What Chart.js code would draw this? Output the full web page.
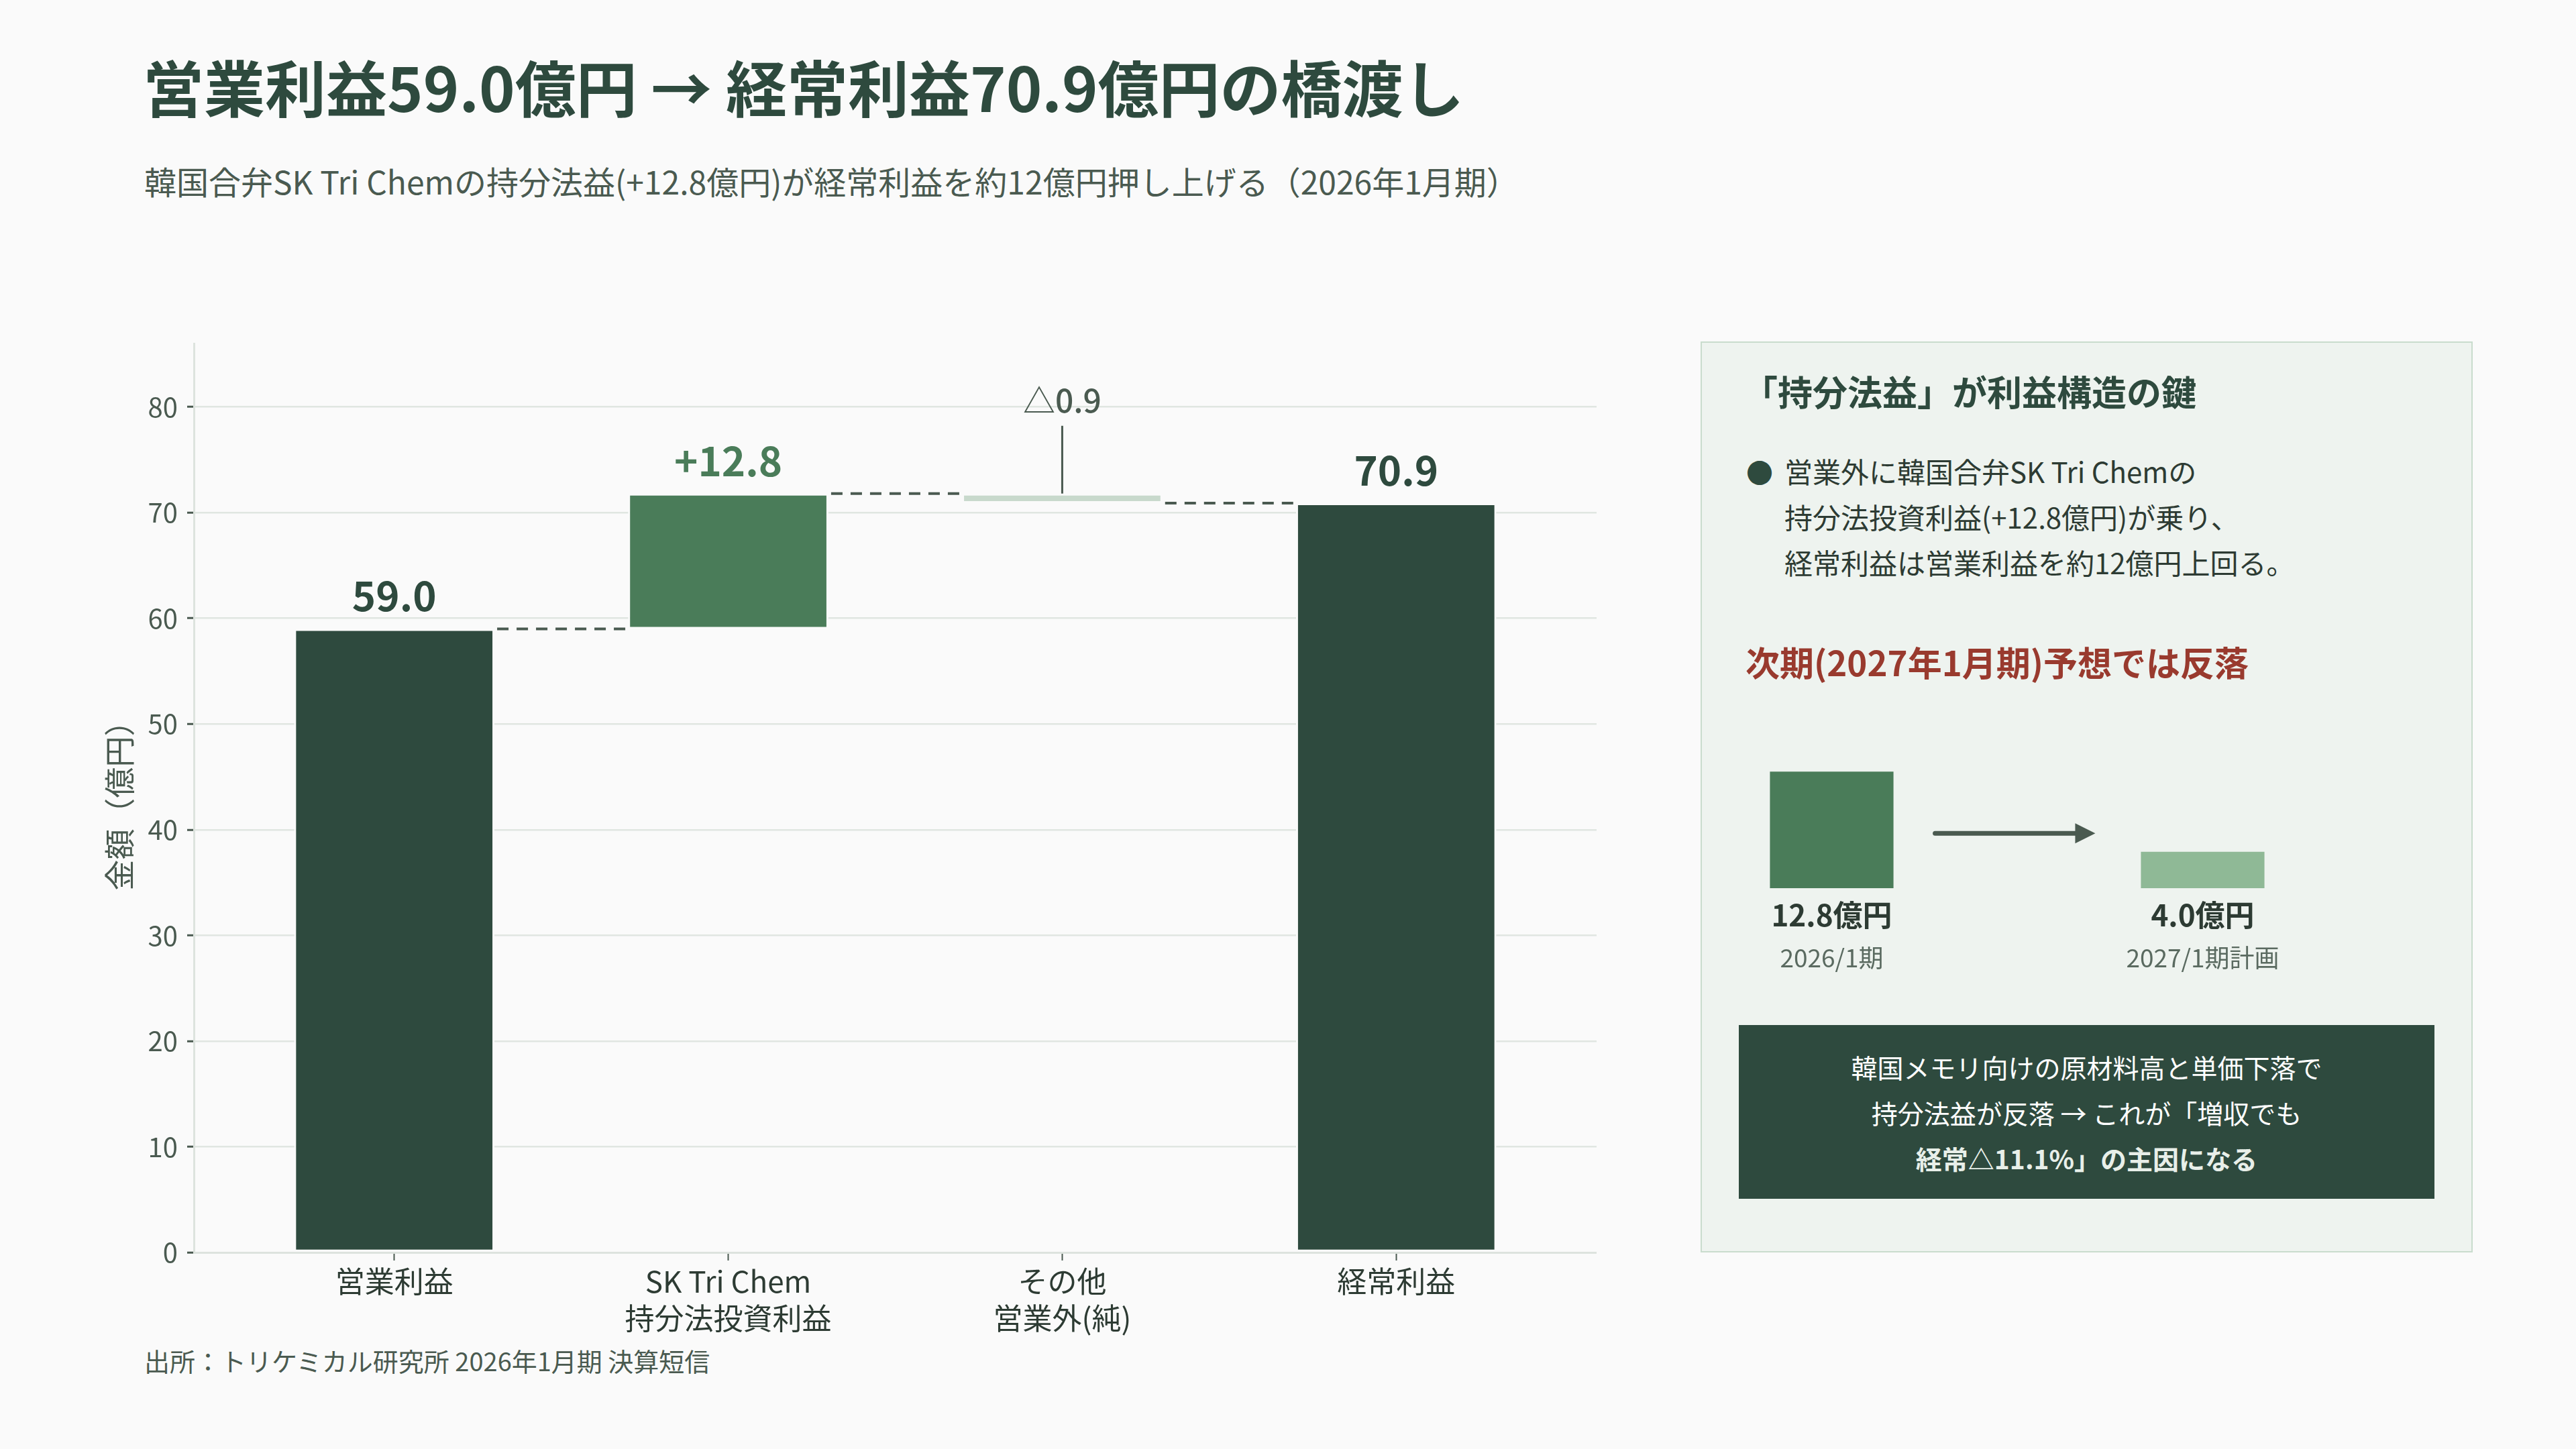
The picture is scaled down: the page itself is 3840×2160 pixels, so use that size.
<!DOCTYPE html>
<html lang="ja">
<head>
<meta charset="utf-8">
<script src="https://cdn.jsdelivr.net/npm/chart.js@4.4.1/dist/chart.umd.min.js"></script>
<style>
  body { margin: 0; width: 3840px; height: 2160px; background: #fafafa; position: relative; overflow: hidden;
         font-family: "Noto Sans CJK JP", sans-serif; color: #2d3b33; }
  .abs { position: absolute; white-space: nowrap; }
  #title { left: 213px; top: 82px; font-size: 91px; line-height: 1; font-weight: bold; color: #2e4a3e; }
  #subtitle { left: 215px; top: 245px; font-size: 48px; line-height: 1; color: #4a5a50; }
  #mainWrap { left: 130px; top: 474px; width: 2250px; height: 1523px; }
  #panel { left: 2535px; top: 509px; width: 1151px; height: 1358px; background: #eef3ef;
           border: 2px solid #c9dccd; box-sizing: border-box; }
  #panelHead { left: 2598px; top: 557px; font-size: 52px; line-height: 1; font-weight: bold; color: #2e4a3e; }
  #bullet { left: 2603px; top: 669px; font-size: 40px; line-height: 68px; color: #2e4a3e; }
  #bulletText { left: 2660px; top: 668px; font-size: 42px; line-height: 68px; color: #2d3b33; }
  #redHead { left: 2602px; top: 961px; font-size: 51px; line-height: 1; font-weight: bold; color: #993a2e; }
  #miniWrap { left: 2454px; top: 1134px; width: 1106px; height: 330px; }
  #note { left: 2592px; top: 1528px; width: 1037px; height: 259px; background: #2e4a3e; color: #ffffff;
          display: flex; flex-direction: column; align-items: center; justify-content: center;
          font-size: 39px; line-height: 68px; text-align: center; }
  #note b { color: #e8efe9; }
  #source { left: 215px; top: 2009px; font-size: 38px; line-height: 1; color: #4a5a50; }
</style>
</head>
<body>
<div id="title" class="abs">営業利益59.0億円 → 経常利益70.9億円の橋渡し</div>
<div id="subtitle" class="abs">韓国合弁SK Tri Chemの持分法益(+12.8億円)が経常利益を約12億円押し上げる（2026年1月期）</div>

<div id="mainWrap" class="abs"><canvas id="mainChart" width="2250" height="1523"></canvas></div>

<div id="panel" class="abs"></div>
<div id="panelHead" class="abs">「持分法益」が利益構造の鍵</div>
<div id="bullet" class="abs">●</div>
<div id="bulletText" class="abs">営業外に韓国合弁SK Tri Chemの<br>持分法投資利益(+12.8億円)が乗り、<br>経常利益は営業利益を約12億円上回る。</div>
<div id="redHead" class="abs">次期(2027年1月期)予想では反落</div>
<div id="miniWrap" class="abs"><canvas id="miniChart" width="1106" height="330"></canvas></div>
<div id="note" class="abs">
  <div>韓国メモリ向けの原材料高と単価下落で</div>
  <div>持分法益が反落 → これが「増収でも</div>
  <div><b>経常△11.1%」の主因になる</b></div>
</div>
<div id="source" class="abs">出所：トリケミカル研究所 2026年1月期 決算短信</div>

<script>
// ---- data ----
const categories = [['営業利益'], ['SK Tri Chem', '持分法投資利益'], ['その他', '営業外(純)'], ['経常利益']];
const steps = [59.0, 12.8, -0.9, 70.9];
const isTotal = [true, false, false, true];
const valueLabels = ['59.0', '+12.8', '△0.9', '70.9'];
const yMax = 86;
const yStep = 10;

const miniLabels = ['2026/1期', '2027/1期計画'];
const miniValues = [12.8, 4.0];
const miniValueLabels = ['12.8億円', '4.0億円'];

// colours
const barColors = ['#2e4a3e', '#4a7c59', '#c8d9cc', '#2e4a3e'];
const labelColors = ['#2e4a3e', '#4a7c59', '#4a5a50', '#2e4a3e'];
const FONT = '"Noto Sans CJK JP", sans-serif';

Chart.defaults.font.family = FONT;

// build floating bars + running levels for the connectors
const ranges = [];
const levels = [];
let running = 0;
steps.forEach((v, i) => {
  if (isTotal[i]) {
    ranges.push([0, v]);
    running = v;
  } else {
    ranges.push([running, running + v]);
    running = running + v;
  }
  levels.push(running);
});

const waterfallDecor = {
  id: 'waterfallDecor',
  afterDatasetsDraw(chart) {
    const ctx = chart.ctx;
    const meta = chart.getDatasetMeta(0);
    const y = chart.scales.y;
    ctx.save();
    // dashed connectors between bars
    ctx.strokeStyle = '#4a5a50';
    ctx.lineWidth = 4;
    ctx.setLineDash([17, 12]);
    for (let i = 0; i < meta.data.length - 1; i++) {
      const a = meta.data[i], b = meta.data[i + 1];
      const py = y.getPixelForValue(levels[i]);
      ctx.beginPath();
      ctx.moveTo(a.x + a.width / 2 + 4, py);
      ctx.lineTo(b.x - b.width / 2 - 4, py);
      ctx.stroke();
    }
    ctx.setLineDash([]);
    // value labels
    ctx.textAlign = 'center';
    ctx.textBaseline = 'alphabetic';
    meta.data.forEach((bar, i) => {
      const top = Math.min(bar.y, bar.base);
      ctx.fillStyle = labelColors[i];
      if (!isTotal[i] && steps[i] < 0) {
        // leader line for the small negative step
        ctx.strokeStyle = '#4a5a50';
        ctx.lineWidth = 3;
        ctx.beginPath();
        ctx.moveTo(bar.x, top);
        ctx.lineTo(bar.x, top - 101);
        ctx.stroke();
        ctx.font = '500 48px ' + FONT;
        ctx.fillText(valueLabels[i], bar.x, top - 121);
      } else {
        ctx.font = 'bold 60px ' + FONT;
        ctx.fillText(valueLabels[i], bar.x, top - 26);
      }
    });
    ctx.restore();
  }
};

new Chart(document.getElementById('mainChart'), {
  type: 'bar',
  data: {
    datasets: [{
      data: ranges.map((r, i) => ({ x: i, y: r })),
      backgroundColor: barColors,
      borderColor: '#fafafa',
      borderWidth: 3,
      borderSkipped: false,
      barPercentage: 0.6,
      categoryPercentage: 1.0
    }]
  },
  options: {
    responsive: false,
    devicePixelRatio: 1,
    animation: false,
    layout: { padding: { top: 29, right: 0, left: 0, bottom: 0 } },
    plugins: { legend: { display: false }, tooltip: { enabled: false } },
    scales: {
      x: {
        type: 'linear',
        min: -0.6,
        max: 3.6,
        offset: false,
        afterBuildTicks: (s) => { s.ticks = categories.map((c, i) => ({ value: i })); },
        afterFit: (s) => { s.height = 130; },
        ticks: {
          autoSkip: false,
          maxRotation: 0,
          padding: 4,
          color: '#2d3b33',
          font: { size: 44, lineHeight: 1.25 },
          callback: (v) => categories[v]
        },
        grid: { offset: false, drawOnChartArea: false, drawTicks: true, tickLength: 12, tickColor: '#4a5a50', tickWidth: 2 },
        border: { color: '#dde3de', width: 3 }
      },
      y: {
        min: 0,
        max: yMax,
        afterFit: (s) => { s.width = 159; },
        ticks: { stepSize: yStep, includeBounds: false, padding: 14, color: '#4a5a50', font: { size: 40 } },
        grid: { color: '#e0e6e1', lineWidth: 2.5, tickLength: 10, tickColor: '#4a5a50', tickWidth: 3 },
        border: { color: '#dde3de', width: 3 },
        title: { display: true, text: '金額（億円）', color: '#4a5a50', font: { size: 46 }, padding: { top: 20, bottom: 0 } }
      }
    }
  },
  plugins: [waterfallDecor]
});

// ---- small comparison chart in the side panel ----
const miniDecor = {
  id: 'miniDecor',
  afterDatasetsDraw(chart) {
    const ctx = chart.ctx;
    const meta = chart.getDatasetMeta(0);
    const area = chart.chartArea;
    ctx.save();
    ctx.textAlign = 'center';
    ctx.textBaseline = 'middle';
    meta.data.forEach((bar, i) => {
      ctx.fillStyle = '#2d3b33';
      ctx.font = 'bold 44px ' + FONT;
      ctx.fillText(miniValueLabels[i], bar.x, area.bottom + 40);
      ctx.fillStyle = '#5a6a60';
      ctx.font = '37px ' + FONT;
      ctx.fillText(miniLabels[i], bar.x, area.bottom + 104);
    });
    // arrow between the two bars
    const a = meta.data[0], b = meta.data[1];
    const x0 = a.x + a.width / 2 + 62;
    const x1 = b.x - b.width / 2 - 68;
    const ay = area.top + (area.bottom - area.top) * 0.57;
    ctx.strokeStyle = '#4a5a50';
    ctx.fillStyle = '#4a5a50';
    ctx.lineWidth = 7;
    ctx.lineCap = 'round';
    ctx.beginPath();
    ctx.moveTo(x0, ay);
    ctx.lineTo(x1 - 20, ay);
    ctx.stroke();
    ctx.beginPath();
    ctx.moveTo(x1, ay);
    ctx.lineTo(x1 - 30, ay - 15);
    ctx.lineTo(x1 - 30, ay + 15);
    ctx.closePath();
    ctx.fill();
    ctx.restore();
  }
};

new Chart(document.getElementById('miniChart'), {
  type: 'bar',
  data: {
    labels: miniLabels,
    datasets: [{
      data: miniValues,
      backgroundColor: ['#4a7c59', '#8fb996'],
      barPercentage: 0.333,
      categoryPercentage: 1.0
    }]
  },
  options: {
    responsive: false,
    devicePixelRatio: 1,
    animation: false,
    layout: { padding: { top: 0, bottom: 140, left: 0, right: 0 } },
    plugins: { legend: { display: false }, tooltip: { enabled: false } },
    scales: {
      x: { display: false },
      y: { display: false, min: 0, max: 14 }
    }
  },
  plugins: [miniDecor]
});
</script>
</body>
</html>
